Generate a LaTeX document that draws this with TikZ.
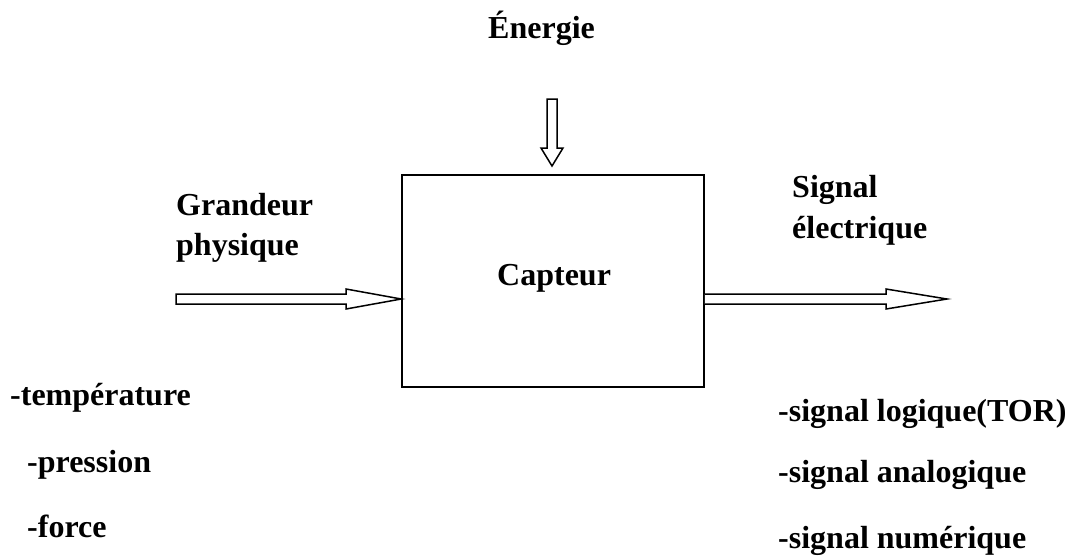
\documentclass[tikz,border=0pt]{standalone}
\usepackage{fontspec}
\setmainfont{Liberation Serif}
\begin{document}
\begin{tikzpicture}[x=1pt,y=-1pt,
  lbl/.style={anchor=base west,inner sep=0pt,font=\fontsize{32}{38}\selectfont\bfseries},
  fatarrow/.style={draw=black,line width=1.5pt,fill=white,line join=miter}]
\useasboundingbox (0,0) rectangle (1068,558);
\node[draw,line width=1.5pt,minimum width=302pt,minimum height=212pt,inner sep=0pt] (capteur) at (553,281) {};
\node[lbl] (cap) at (497,285) {Capteur};
\node[lbl] (en) at (488,38) {Énergie};
\node[lbl] (gr1) at (176,215) {Grandeur};
\node[lbl] (gr2) at (176,255) {physique};
\node[lbl] (si1) at (792,197) {Signal};
\node[lbl] (si2) at (792,238) {électrique};
\node[lbl] (l1) at (10,405) {-température};
\node[lbl] (l2) at (27,472) {-pression};
\node[lbl] (l3) at (27,537) {-force};
\node[lbl] (r1) at (778,421) {-signal logique(TOR)};
\node[lbl] (r2) at (778,482) {-signal analogique};
\node[lbl] (r3) at (778,548) {-signal numérique};
% input arrow
\coordinate (intip) at (capteur.west |- 0,299);
\draw[fatarrow] (176,294) -- (346,294) -- (346,289) -- (intip) -- (346,309) -- (346,304) -- (176,304) -- cycle;
% output arrow
\coordinate (outbase) at (capteur.east |- 0,299);
\draw[fatarrow] ([yshift=5pt]outbase) -- (886,294) -- (886,289) -- (947,299) -- (886,309) -- (886,304) -- ([yshift=-5pt]outbase);
% energy arrow
\coordinate (etip) at (552,166);
\draw[fatarrow] (547,99) -- (557,99) -- (557,148) -- (563,148) -- (etip) -- (541,148) -- (547,148) -- cycle;
\end{tikzpicture}
\end{document}
